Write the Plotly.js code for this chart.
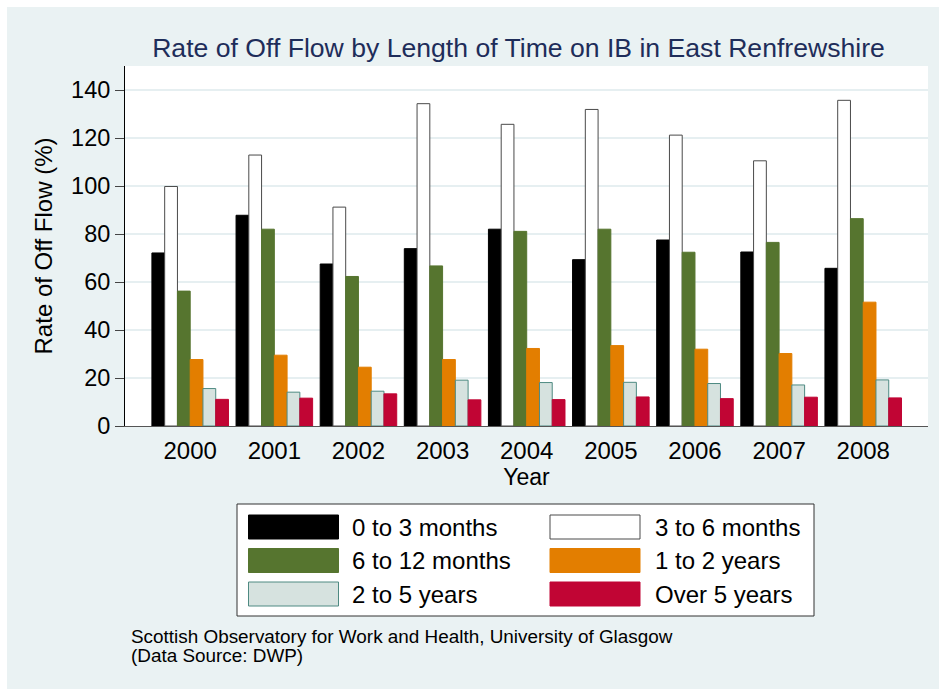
<!DOCTYPE html>
<html>
<head>
<meta charset="utf-8">
<script src="https://cdn.plot.ly/plotly-3.0.1.min.js"></script>
<style>html,body{margin:0;padding:0;background:#fff;}#chart{width:939px;height:689px;}</style>
</head>
<body>
<div id="chart"></div>
<script>
// ---- data ----
const years = [2000, 2001, 2002, 2003, 2004, 2005, 2006, 2007, 2008];
const seriesNames = ["0 to 3 months", "3 to 6 months", "6 to 12 months", "1 to 2 years", "2 to 5 years", "Over 5 years"];
const s0to3m  = [72.1, 87.8, 67.5, 73.9, 82.0, 69.3, 77.5, 72.5, 65.7];
const s3to6m  = [99.8, 112.9, 91.2, 134.3, 125.7, 131.9, 121.2, 110.5, 135.7];
const s6to12m = [56.2, 82.0, 62.3, 66.7, 81.1, 82.0, 72.4, 76.5, 86.4];
const s1to2y  = [27.7, 29.5, 24.5, 27.7, 32.3, 33.5, 32.0, 30.2, 51.6];
const s2to5y  = [15.6, 14.1, 14.5, 19.1, 18.1, 18.2, 17.7, 17.1, 19.2];
const sOver5y = [11.1, 11.6, 13.4, 10.9, 11.0, 12.1, 11.4, 12.0, 11.7];
const yTicks = [0, 20, 40, 60, 80, 100, 120, 140];
const titleText = "Rate of Off Flow by Length of Time on IB in East Renfrewshire";
const xTitle = "Year";
const yTitle = "Rate of Off Flow (%)";
const caption1 = "Scottish Observatory for Work and Health, University of Glasgow";
const caption2 = "(Data Source: DWP)";

// ---- styles ----
const seriesValues = [s0to3m, s3to6m, s6to12m, s1to2y, s2to5y, sOver5y];
const fills = ["#000000", "#FFFFFF", "#56752F", "#E37E00", "#D6E2DF", "#C10534"];
const outlines = ["#000000", "#4A4A4A", "#56752F", "#E37E00", "#4E8A82", "#C10534"];
const FONT = "Liberation Sans, Arial, Helvetica, sans-serif";
const BG = "#EAF2F3";

const W = 939, H = 689, L = 125, R = 928, T = 66, B = 426;
const px = p => (p - L) / (R - L);
const py = p => (B - p) / (B - T);

const traces = seriesValues.map((vals, i) => ({
  type: "bar",
  name: seriesNames[i],
  x: years,
  y: vals,
  marker: { color: fills[i], line: { color: outlines[i], width: 1 } },
  showlegend: false,
  hoverinfo: "x+y+name"
}));

const shapes = [
  // white strips at top and left edges
  { type: "rect", xref: "paper", yref: "paper", x0: px(0), x1: px(W), y0: py(7), y1: py(0), fillcolor: "#FFFFFF", line: { width: 0 }, layer: "below" },
  { type: "rect", xref: "paper", yref: "paper", x0: px(0), x1: px(7), y0: py(H), y1: py(0), fillcolor: "#FFFFFF", line: { width: 0 }, layer: "below" },
  // legend box
  { type: "rect", xref: "paper", yref: "paper", x0: px(237), x1: px(814), y0: py(616), y1: py(504), fillcolor: "#FFFFFF", line: { color: "#333333", width: 1 } }
];
const annotations = [];
const rowTops = [515, 548.5, 582];
const colSwatch = [248.5, 550];
const colText = [350, 653];
seriesNames.forEach((n, i) => {
  const col = i % 2, row = Math.floor(i / 2);
  shapes.push({ type: "rect", xref: "paper", yref: "paper",
    x0: px(colSwatch[col]), x1: px(colSwatch[col] + 90),
    y0: py(rowTops[row] + 24), y1: py(rowTops[row]),
    fillcolor: fills[i], line: { color: outlines[i], width: 1 } });
  annotations.push({ xref: "paper", yref: "paper", x: px(colText[col]), y: py(rowTops[row] + 12),
    xanchor: "left", yanchor: "middle", showarrow: false, text: n,
    font: { family: FONT, size: 24, color: "#000" } });
});
annotations.push({ xref: "paper", yref: "paper", x: px(129), y: py(636), xanchor: "left", yanchor: "middle",
  showarrow: false, text: caption1, font: { family: FONT, size: 18.9, color: "#000" } });
annotations.push({ xref: "paper", yref: "paper", x: px(129), y: py(655), xanchor: "left", yanchor: "middle",
  showarrow: false, text: caption2, font: { family: FONT, size: 18.9, color: "#000" } });

const layout = {
  width: W, height: H,
  margin: { l: L, r: W - R, t: T, b: H - B, pad: 0 },
  paper_bgcolor: BG,
  plot_bgcolor: "#FFFFFF",
  font: { family: FONT, color: "#000" },
  title: { text: titleText, font: { family: FONT, size: 26.6, color: "#1E2D5A" },
    xref: "container", x: 518.5 / W, xanchor: "center", yref: "container", y: 1 - 47.5 / H, yanchor: "middle" },
  barmode: "group", bargap: 0.09, bargroupgap: 0,
  xaxis: {
    type: "linear", range: [1999.225, 2008.77], tickmode: "array", tickvals: years, ticktext: years.map(String),
    ticks: "outside", ticklen: 3, tickcolor: "rgba(0,0,0,0)", showline: true, linecolor: "#555", linewidth: 1,
    showgrid: false, zeroline: false, automargin: false, fixedrange: true,
    tickfont: { family: FONT, size: 24, color: "#000" },
    title: { text: xTitle, font: { family: FONT, size: 23, color: "#000" }, standoff: 4 }
  },
  yaxis: {
    range: [0, 150], tickmode: "array", tickvals: yTicks, ticks: "outside", ticklen: 9, tickcolor: "#444", tickwidth: 1,
    showline: true, linecolor: "#000", linewidth: 1, showgrid: true, gridcolor: "#E6EFF1", gridwidth: 2,
    zeroline: false, automargin: false, fixedrange: true,
    tickfont: { family: FONT, size: 23.5, color: "#000" },
    title: { text: yTitle, font: { family: FONT, size: 24, color: "#000" }, standoff: 11 }
  },
  shapes: shapes,
  annotations: annotations
};

Plotly.newPlot("chart", traces, layout, { displayModeBar: false, staticPlot: true });
</script>
</body>
</html>
